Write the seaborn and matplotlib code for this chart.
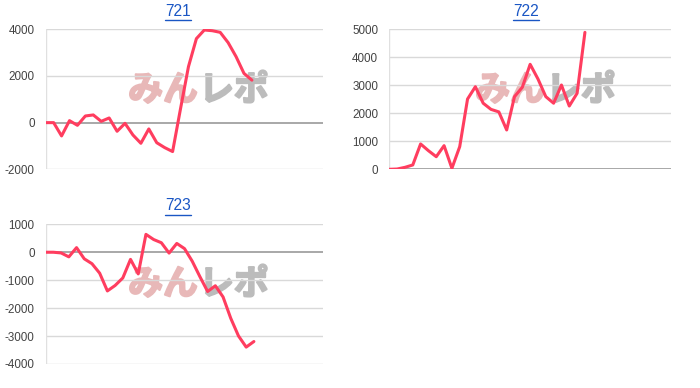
import matplotlib
matplotlib.use("Agg")
import matplotlib.pyplot as plt
import matplotlib.patheffects as pe
import seaborn as sns
import pandas as pd
from matplotlib.lines import Line2D

# ---- data ----
titles = ["721", "722", "723"]
v721 = [0, 0, -570, 85, -115, 285, 330, 55, 200, -370, -30, -530, -885, -270,
        -860, -1070, -1240, 600, 2400, 3600, 3970, 3940, 3870, 3430, 2830, 2110, 1820]
v722 = [0, 10, 70, 155, 905, 665, 450, 845, 35, 810, 2510, 2950, 2360, 2140,
        2050, 1405, 2595, 2930, 3750, 3225, 2595, 2360, 3010, 2260, 2715, 4890]
v723 = [0, 0, -25, -165, 165, -235, -410, -750, -1385, -1190, -920, -255, -775,
        640, 455, 340, -30, 315, 130, -320, -875, -1405, -1200, -1600, -2365,
        -2995, -3395, -3195]
yticks = [[-2000, 0, 2000, 4000], [0, 1000, 2000, 3000, 4000, 5000],
          [-4000, -3000, -2000, -1000, 0, 1000]]
xmax = [35, 36, 36]

series = [v721, v722, v723]

sns.set_theme(style="white")
plt.rcParams['font.family'] = ['Liberation Sans', 'DejaVu Sans']

W, H = 700, 388
fig = plt.figure(figsize=(W / 100, H / 100), dpi=100)

# axes boxes in pixel coords: left, top, right, bottom
boxes = [(45.7, 29.3, 323.3, 169.3), (389.3, 29.3, 671.0, 169.3), (45.7, 224.3, 323.3, 364.0)]
title_pos = [(178.0, 11.0), (526.0, 11.0), (178.0, 206.0)]
wm_pos = [(195.0, 90.0), (542.0, 90.0), (195.0, 284.0)]

line_color = "#ff3d5f"
for i, (vals, box) in enumerate(zip(series, boxes)):
    l, t, r, b = box
    ax = fig.add_axes([l / W, 1 - b / H, (r - l) / W, (b - t) / H])
    ax.set_zorder(1)
    df = pd.DataFrame({"x": list(range(len(vals))), "y": vals})
    ymin, ymax = yticks[i][0], yticks[i][-1]
    for yt in yticks[i]:
        if yt == 0:
            continue
        ax.axhline(yt, color="#d9d9d9", lw=1.0, zorder=0)
    if ymin < 0 < ymax or ymin == 0:
        ax.axhline(0, color="#9a9a9a", lw=1.2, zorder=1)
    ax.axvline(0, color="#e0e0e0", lw=1.0, zorder=0)
    sns.lineplot(data=df, x="x", y="y", ax=ax, color=line_color, lw=2.2, zorder=5)
    ax.set_xlim(0, xmax[i])
    ax.set_ylim(ymin, ymax)
    ax.set_yticks(yticks[i])
    ax.set_yticklabels([str(v) for v in yticks[i]])
    ax.set_xticks([])
    ax.set_xlabel("")
    ax.set_ylabel("")
    ax.tick_params(axis="y", length=0, pad=8, labelsize=8.4, labelcolor="#444444")
    for s in ax.spines.values():
        s.set_visible(False)
    ax.patch.set_alpha(0)

    # watermark (behind the axes)
    wx, wy = wm_pos[i]
    fig.text(wx / W + 0.004, 1 - wy / H, "みん", ha="right", va="center",
             fontsize=25, fontweight="bold", color="#e8b8b8",
             family=["Noto Sans CJK JP", "DejaVu Sans"], zorder=0.2,
             path_effects=[pe.withStroke(linewidth=1.5, foreground="#e8b8b8")])
    fig.text(wx / W + 0.006, 1 - wy / H, "レポ", ha="left", va="center",
             fontsize=25, fontweight="bold", color="#bcbcbc",
             family=["Noto Sans CJK JP", "DejaVu Sans"], zorder=0.2,
             path_effects=[pe.withStroke(linewidth=1.5, foreground="#bcbcbc")])

    # title
    tx, ty = title_pos[i]
    txt = fig.text(tx / W, 1 - ty / H, titles[i], ha="center", va="center",
                   fontsize=11.2, color="#1a56c4")
    fig.canvas.draw()
    bb = txt.get_window_extent()
    uy = (bb.y0 - 1.5) / H
    fig.add_artist(Line2D([bb.x0 / W, bb.x1 / W], [uy, uy], color="#1a56c4", lw=1.0))

fig.savefig("out.png", dpi=100)
